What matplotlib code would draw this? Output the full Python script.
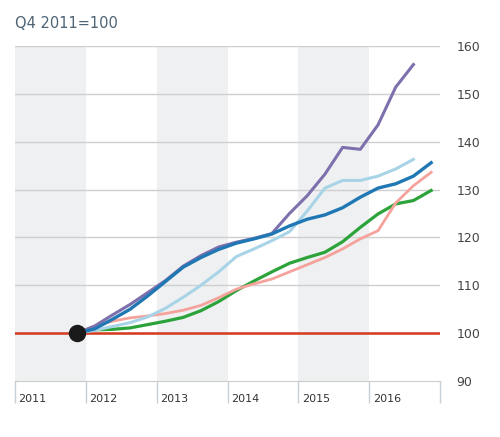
import matplotlib.pyplot as plt
from matplotlib.transforms import blended_transform_factory

# quarterly index values, Q4 2011 = 100
quarters = ['Q4 2011', 'Q1 2012', 'Q2 2012', 'Q3 2012', 'Q4 2012',
            'Q1 2013', 'Q2 2013', 'Q3 2013', 'Q4 2013',
            'Q1 2014', 'Q2 2014', 'Q3 2014', 'Q4 2014',
            'Q1 2015', 'Q2 2015', 'Q3 2015', 'Q4 2015',
            'Q1 2016', 'Q2 2016', 'Q3 2016', 'Q4 2016']

purple = [100, 101.5, 103.8, 106, 108.5, 111, 114, 116.2, 118, 119, 119.8,
          120.8, 125, 128.7, 133.2, 138.8, 138.4, 143.5, 151.4, 156.1]
light_blue = [100, 100.6, 101.4, 102.2, 103.4, 105.2, 107.5, 110, 112.8, 116,
              117.6, 119.3, 121.2, 125.5, 130.3, 131.9, 131.9, 132.8, 134.3, 136.3]
dark_blue = [100, 100.9, 102.9, 105, 107.8, 110.8, 113.8, 115.8, 117.5, 118.8,
             119.7, 120.7, 122.4, 123.8, 124.7, 126.2, 128.4, 130.3, 131.2,
             132.8, 135.6]
pink = [100, 101.5, 102.5, 103.2, 103.6, 104.1, 104.8, 105.8, 107.4, 109.2,
        110.3, 111.3, 112.8, 114.3, 115.8, 117.6, 119.7, 121.4, 127.2, 130.8,
        133.6]
green = [100, 100.7, 100.8, 101.1, 101.8, 102.5, 103.3, 104.7, 106.6, 108.9,
         110.9, 112.8, 114.6, 115.8, 116.9, 119.1, 122.1, 124.9, 127, 127.7,
         129.8]

years = [2011, 2012, 2013, 2014, 2015, 2016]
shaded_years = [2011, 2013, 2015]
y_ticks = [90, 100, 110, 120, 130, 140, 150, 160]


def quarter_pos(label):
    q, yr = label.split()
    return int(yr) + (int(q[1]) - 0.5) / 4


xs = [quarter_pos(q) for q in quarters]

fig = plt.figure(figsize=(5, 4.37), dpi=100)
ax = fig.add_axes([0.03, 0.128, 0.85, 0.767])

# alternating year bands
for yr in shaded_years:
    ax.axvspan(yr, yr + 1, color='#eef0f1', zorder=0, lw=0)

for v in y_ticks[1:]:
    ax.axhline(v, color='#cfcfcf', lw=1, zorder=1)

ax.axhline(100, color='#d7391f', lw=1.8, zorder=2)

ax.plot(xs[:len(green)], green, color='#2ca33a', lw=2.3, zorder=3)
ax.plot(xs[:len(pink)], pink, color='#f6a29c', lw=2.0, zorder=3)
ax.plot(xs[:len(light_blue)], light_blue, color='#a9d4e8', lw=2.2, zorder=3)
ax.plot(xs[:len(purple)], purple, color='#7d70ad', lw=2.2, zorder=4)
ax.plot(xs[:len(dark_blue)], dark_blue, color='#1f78b4', lw=2.4, zorder=5)

# base point
ax.plot(xs[0], 100, 'o', color='#1a1a1a', ms=11.5, zorder=6)

ax.set_xlim(2011, 2017)
ax.set_ylim(90, 160)

for s in ['top', 'left', 'right']:
    ax.spines[s].set_visible(False)
ax.spines['bottom'].set_color('#cccccc')

ax.yaxis.tick_right()
ax.set_yticks(y_ticks)
ax.tick_params(axis='y', length=0, pad=12, labelsize=9, labelcolor='#444444')

ax.set_xticks(years + [2017])
ax.set_xticklabels([])
ax.tick_params(axis='x', length=16, width=1, color='#c8d0d8', direction='out')

trans = blended_transform_factory(ax.transData, ax.transAxes)
for yr in years:
    ax.text(yr + 0.05, -0.053, str(yr), transform=trans, fontsize=8,
            color='#333333', ha='left', va='center')

fig.text(0.03, 0.947, 'Q4 2011=100', fontsize=10.5, color='#4d6475',
         ha='left', va='center')

fig.savefig('out.png', dpi=100, facecolor='white')
